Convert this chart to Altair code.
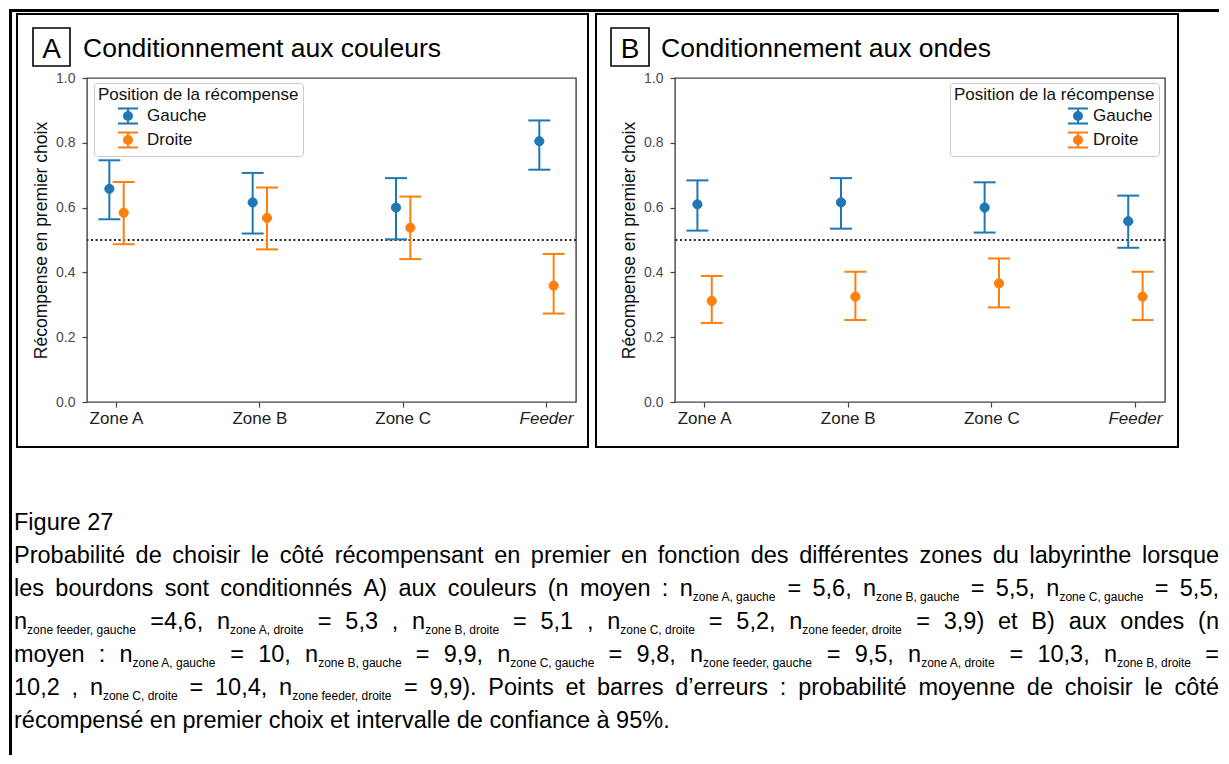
import re
import altair as alt
import pandas as pd

FONT = "Liberation Sans"

# ---------------- data ----------------
zones = ["Zone A", "Zone B", "Zone C", "Feeder"]
positions = ["Gauche", "Droite"]
colors = ["#1f77b4", "#ff7f0e"]
y_ticks = [0.0, 0.2, 0.4, 0.6, 0.8, 1.0]
chance_level = [0.5]

# Panel A : conditionnement aux couleurs
a_gauche_mean = [0.658, 0.616, 0.600, 0.805]
a_gauche_low = [0.564, 0.520, 0.502, 0.717]
a_gauche_high = [0.746, 0.707, 0.691, 0.869]
a_droite_mean = [0.584, 0.568, 0.538, 0.359]
a_droite_low = [0.487, 0.471, 0.441, 0.273]
a_droite_high = [0.679, 0.662, 0.634, 0.457]

# Panel B : conditionnement aux ondes
b_gauche_mean = [0.610, 0.616, 0.600, 0.558]
b_gauche_low = [0.529, 0.535, 0.523, 0.476]
b_gauche_high = [0.684, 0.691, 0.678, 0.637]
b_droite_mean = [0.312, 0.325, 0.366, 0.325]
b_droite_low = [0.244, 0.253, 0.292, 0.253]
b_droite_high = [0.389, 0.402, 0.443, 0.402]

panel_letters = ["A", "B"]
panel_titles = ["Conditionnement aux couleurs", "Conditionnement aux ondes"]
legend_title = "Position de la récompense"
y_title = "Récompense en premier choix"

caption_lines = [
    "Figure 27",
    "Probabilité de choisir le côté récompensant en premier en fonction des différentes zones du labyrinthe lorsque",
    "les bourdons sont conditionnés A) aux couleurs (n moyen : n_{zone A, gauche} = 5,6, n_{zone B, gauche} = 5,5, n_{zone C, gauche} = 5,5,",
    "n_{zone feeder, gauche} =4,6, n_{zone A, droite} = 5,3 , n_{zone B, droite} = 5,1 , n_{zone C, droite} = 5,2, n_{zone feeder, droite} = 3,9) et B) aux ondes (n",
    "moyen : n_{zone A, gauche} = 10, n_{zone B, gauche} = 9,9, n_{zone C, gauche} = 9,8, n_{zone feeder, gauche} = 9,5, n_{zone A, droite} = 10,3, n_{zone B, droite} =",
    "10,2 , n_{zone C, droite} = 10,4, n_{zone feeder, droite} = 9,9). Points et barres d’erreurs : probabilité moyenne de choisir le côté",
    "récompensé en premier choix et intervalle de confiance à 95%.",
]
caption_justified = [False, True, True, True, True, True, False]


def make_df(gm, gl, gh, dm, dl, dh):
    rows = []
    for i, z in enumerate(zones):
        rows.append({"zone": z, "pos": "Gauche", "mean": gm[i], "low": gl[i], "high": gh[i]})
        rows.append({"zone": z, "pos": "Droite", "mean": dm[i], "low": dl[i], "high": dh[i]})
    return pd.DataFrame(rows)


df_a = make_df(a_gauche_mean, a_gauche_low, a_gauche_high, a_droite_mean, a_droite_low, a_droite_high)
df_b = make_df(b_gauche_mean, b_gauche_low, b_gauche_high, b_droite_mean, b_droite_low, b_droite_high)

# ---------------- caption layout (Arial / Liberation Sans metrics) ----------------
_W = {c: 556 for c in "0123456789"}
_W.update({" ": 278, "!": 278, "%": 889, "'": 191, "(": 333, ")": 333, ",": 278, "-": 333,
           ".": 278, ":": 278, "=": 584, "A": 667, "B": 667, "C": 722, "F": 611, "P": 667,
           "a": 556, "b": 556, "c": 500, "d": 556, "e": 556, "f": 278, "g": 556, "h": 556,
           "i": 222, "j": 222, "k": 500, "l": 222, "m": 833, "n": 556, "o": 556, "p": 556,
           "q": 556, "r": 333, "s": 500, "t": 278, "u": 556, "v": 500, "w": 722, "x": 500,
           "y": 500, "z": 500, "é": 556, "è": 556, "ô": 556, "à": 556, "’": 222})

FS_MAIN, FS_SUB, SUB_DY = 23.5, 12, 4.5
CAP_X0, CAP_BASE0, CAP_LEAD, CAP_WIDTH = -73, 452, 33, 1205


def text_w(s, fs):
    return sum(_W.get(c, 556) for c in s) * fs / 1000.0


def layout_line(line, justify):
    toks = []
    for part in re.split(r"(_\{[^}]*\})", line):
        if not part:
            continue
        if part.startswith("_{"):
            toks.append(("w", part[2:-1], True))
        else:
            for piece in re.split(r"( )", part):
                if piece == "":
                    continue
                toks.append(("s" if piece == " " else "w", piece, False))
    nat = sum(text_w(t, FS_SUB if sb else FS_MAIN) for _, t, sb in toks)
    nsp = sum(1 for k, _, _ in toks if k == "s")
    extra = (CAP_WIDTH - nat) / nsp if (justify and nsp) else 0.0
    x, out = 0.0, []
    for kind, txt, sb in toks:
        w = text_w(txt, FS_SUB if sb else FS_MAIN)
        if kind == "s":
            x += w + extra
        else:
            out.append((x, txt, sb))
            x += w
    return out


cap_rows = []
for i, (line, just) in enumerate(zip(caption_lines, caption_justified)):
    for x, txt, sb in layout_line(line, just):
        cap_rows.append({"px": CAP_X0 + x,
                         "py": CAP_BASE0 + i * CAP_LEAD + (SUB_DY if sb else 0),
                         "fs": FS_SUB if sb else FS_MAIN, "t": txt})
cap_df = pd.DataFrame(cap_rows)

ONE = alt.Data(values=[{"k": 1}])
SYM = "M-1,-0.75H1M-1,0.75H1M0,-0.75V0.75M-0.4,0A0.4,0.4,0,1,0,0.4,0A0.4,0.4,0,1,0,-0.4,0Z"


def panel(df, width, letter, title, frame_x, box_x, title_x, leg_x, sym_off, lab_off):
    color_scale = alt.Scale(domain=positions, range=colors)
    x_enc = alt.X(
        "zone:N", sort=zones, title=None,
        scale=alt.Scale(domain=zones, paddingInner=0.8, paddingOuter=0.106),
        axis=alt.Axis(labelAngle=0, labelFontSize=17, labelColor="#222", labelFont=FONT,
                      labelFontStyle={"condition": {"test": "datum.label == 'Feeder'", "value": "italic"},
                                      "value": "normal"},
                      tickSize=5, tickColor="#444", tickWidth=1.2, labelPadding=3,
                      domain=False, grid=False),
    )
    xo = alt.XOffset("pos:N", sort=positions, scale=alt.Scale(domain=positions))
    y_scale = alt.Scale(domain=[0, 1], nice=False, zero=False)
    y_axis = alt.Axis(values=y_ticks, format=".1f", title=y_title, grid=False, domain=False,
                      labelFontSize=14, labelColor="#4a4a4a", labelFont=FONT, labelPadding=7,
                      tickSize=5, tickColor="#444", tickWidth=1.2,
                      titleFont=FONT, titleFontSize=17.5, titleFontWeight="normal",
                      titleColor="#111", titlePadding=5)

    leg = alt.Legend(title=legend_title, orient="none", legendX=leg_x, legendY=5,
                     direction="vertical", symbolType=SYM, symbolSize=400,
                     symbolStrokeWidth=2, symbolOpacity=1, symbolOffset=sym_off,
                     labelOffset=lab_off, padding=4, titlePadding=1, rowPadding=0,
                     labelFontSize=17, titleFontSize=17, titleFontWeight="normal",
                     titleLimit=400, labelLimit=300,
                     labelFont=FONT, titleFont=FONT, labelColor="#111", titleColor="#111",
                     strokeColor="#cccccc", fillColor="white", cornerRadius=3)

    stroke_enc = alt.Stroke("pos:N", scale=color_scale, legend=leg)
    fill_enc = alt.Fill("pos:N", scale=color_scale, legend=leg)

    base = alt.Chart(df)
    ref = alt.Chart(pd.DataFrame({"level": chance_level})).mark_rule(
        color="#222", strokeDash=[2, 2.6], strokeWidth=2
    ).encode(y=alt.Y("level:Q", scale=y_scale, axis=y_axis))
    bars = base.mark_rule(strokeWidth=2).encode(
        x=x_enc, xOffset=xo, y=alt.Y("low:Q", scale=y_scale, axis=y_axis), y2="high:Q",
        stroke=stroke_enc)
    cap_lo = base.mark_tick(size=22, thickness=2, opacity=1).encode(
        x=x_enc, xOffset=xo, y=alt.Y("low:Q", scale=y_scale, axis=y_axis), fill=fill_enc)
    cap_hi = base.mark_tick(size=22, thickness=2, opacity=1).encode(
        x=x_enc, xOffset=xo, y=alt.Y("high:Q", scale=y_scale, axis=y_axis), fill=fill_enc)
    pts = base.mark_point(filled=True, size=85, opacity=1, strokeWidth=1).encode(
        x=x_enc, xOffset=xo, y=alt.Y("mean:Q", scale=y_scale, axis=y_axis),
        fill=fill_enc, stroke=stroke_enc)

    frame = alt.Chart(ONE).mark_rect(fill="transparent", stroke="black", strokeWidth=2).encode(
        x=alt.value(frame_x[0]), x2=alt.value(frame_x[1]), y=alt.value(-64), y2=alt.value(369))
    lbox = alt.Chart(ONE).mark_rect(fill="transparent", stroke="black", strokeWidth=1.6).encode(
        x=alt.value(box_x[0]), x2=alt.value(box_x[1]), y=alt.value(-50), y2=alt.value(-12))
    ltxt = alt.Chart(ONE).mark_text(font=FONT, fontSize=28, align="center", baseline="alphabetic",
                                     color="black").encode(
        x=alt.value((box_x[0] + box_x[1]) / 2), y=alt.value(-20), text=alt.value(letter))
    ttxt = alt.Chart(ONE).mark_text(font=FONT, fontSize=26.5, align="left", baseline="alphabetic",
                                     color="black").encode(
        x=alt.value(title_x), y=alt.value(-21), text=alt.value(title))

    main = alt.layer(ref, bars, cap_lo, cap_hi, pts, frame, lbox, ltxt, ttxt).properties(
        width=width, height=324)
    return main


panel_a_main = panel(df_a, 489, panel_letters[0], panel_titles[0], (-70, 501), (-54, -17), -4,
                     7, 19, 8)
panel_b = panel(df_b, 490, panel_letters[1], panel_titles[1], (-79, 503), (-64, -26), -14,
                275, 113, 4)

# outer figure lines (filled rects) + caption, drawn in pixel space of panel A
top_line = alt.Chart(ONE).mark_rect(color="black").encode(
    x=alt.value(-78), x2=alt.value(1132), y=alt.value(-69), y2=alt.value(-66))
left_line = alt.Chart(ONE).mark_rect(color="black").encode(
    x=alt.value(-78), x2=alt.value(-75), y=alt.value(-69), y2=alt.value(677))
caption = alt.Chart(cap_df).mark_text(align="left", baseline="alphabetic", font=FONT,
                                      color="black").encode(
    x=alt.X("px:Q", scale=None, axis=None),
    y=alt.Y("py:Q", scale=None, axis=None),
    text="t:N",
    size=alt.Size("fs:Q", scale=None, legend=None))
overlay = alt.layer(top_line, left_line, caption)

panel_a = alt.layer(panel_a_main, overlay).resolve_scale(x="independent", y="independent")

chart = alt.hconcat(panel_a, panel_b, spacing=99, bounds="flush").resolve_scale(
    fill="independent", stroke="independent", xOffset="independent"
).resolve_legend(fill="independent", stroke="independent").properties(
    padding=0, background="white"
).configure_view(stroke="#444", strokeWidth=1.4)

chart.save("out.html", embed_options={"renderer": "svg", "actions": False})
